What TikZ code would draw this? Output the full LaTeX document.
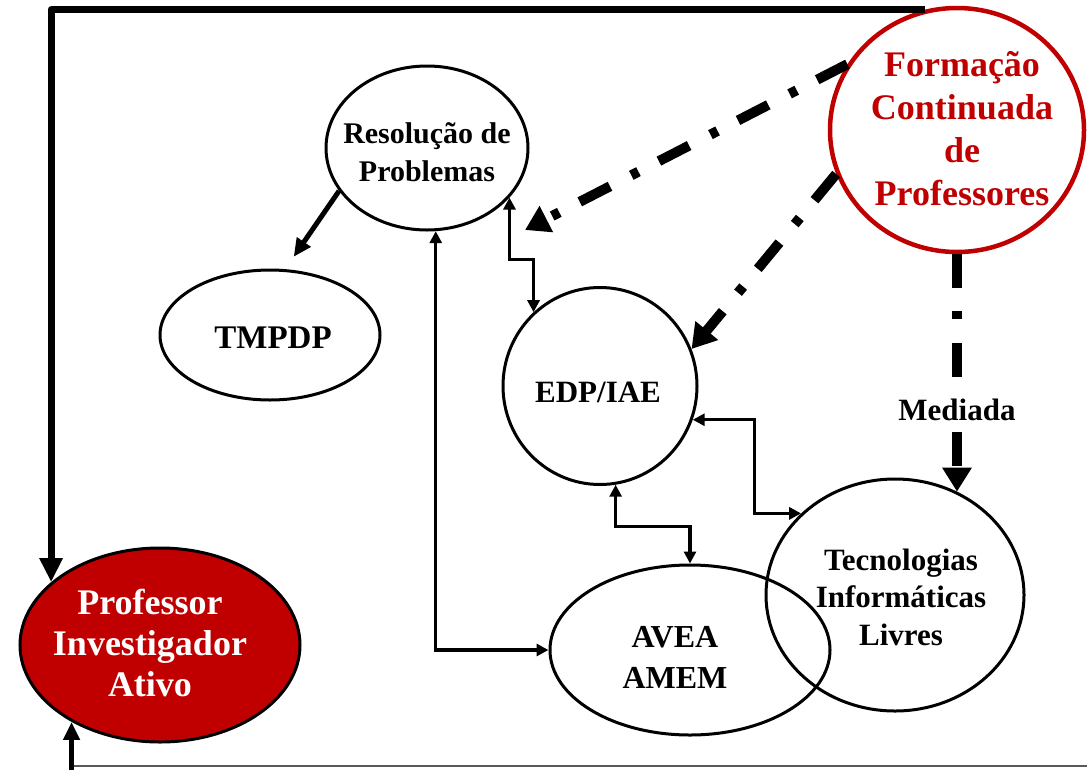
\documentclass[tikz,border=0pt]{standalone}
\usepackage{fontspec}
\setmainfont{Liberation Serif}
\usetikzlibrary{shapes.geometric,arrows.meta,calc}
\definecolor{dred}{RGB}{192,0,0}
\newcommand\fsz[2]{\fontsize{#1}{#2}\selectfont\bfseries}
\begin{document}
\begin{tikzpicture}[x=1pt,y=-1pt,
  ell/.style={ellipse, draw, line width=3pt, inner sep=0pt},
  lab/.style={align=center, inner sep=0pt},
  con/.style={line width=3.5pt, line join=miter,
    {Triangle[length=12pt,width=12pt]}-{Triangle[length=12pt,width=12pt]}},
  bigarrow/.style={line width=7pt, line join=round, -{Triangle[length=24pt,width=22pt]}},
  medarrow/.style={line width=5pt, -{Triangle[length=18pt,width=16pt]}},
  dd/.style={line width=10pt, dash pattern=on 34pt off 23pt on 8pt off 24pt,
    -{Triangle[length=24pt,width=28pt]}}
]
\useasboundingbox (0,0) rectangle (1087,769);
\fill[white] (0,0) rectangle (1087,769);

% nodes
\node[ell, minimum width=202pt, minimum height=164pt] (res) at (427,148) {};
\node[lab, font=\fsz{30}{38}] at (427,152) {Resolução de\\Problemas};

\node[ell, minimum width=220pt, minimum height=130pt] (tmp) at (270,335) {};
\node[lab, font=\fsz{33}{37}] at (273,338) {TMPDP};

\node[ell, minimum width=194pt, minimum height=197pt] (edp) at (600,386) {};
\node[lab, font=\fsz{31}{36}] at (598,392) {EDP/IAE};

\node[ell, minimum width=280pt, minimum height=170pt] (avea) at (690,650) {};
\node[ell, minimum width=258pt, minimum height=232pt] (tec) at (895,595) {};
\node[lab, font=\fsz{32}{41}] at (675,657) {AVEA\\AMEM};
\node[lab, font=\fsz{31}{37.5}] at (901,597) {Tecnologias\\Informáticas\\Livres};

\node[ell, fill=dred, minimum width=280pt, minimum height=194pt] (prof) at (160,645) {};
\node[lab, font=\fsz{36}{41}, text=white] at (150,643) {Professor\\Investigador\\Ativo};

\node[ell, draw=dred, line width=4.5pt, minimum width=254pt, minimum height=244pt] (form) at (957,130) {};
\node[lab, font=\fsz{36}{43}, text=dred] at (962,129) {Formação\\Continuada\\de\\Professores};

% connectors
\draw[bigarrow] (form.105) -| (prof.150);
\coordinate (bB) at (0,770);
\coordinate (bR) at (1087,766);
\draw[line width=1.5pt, black!65] (bR) -- (prof.221 |- bR);
\draw[medarrow] (prof.221 |- bB) -- (prof.221);

\draw[medarrow, shorten >=15pt] (res.206) -- (tmp.77);
\draw[con] (res.-84) |- (avea.west);
\draw[con] (res.-31) -- ++(0,62) -| (edp.132);
\draw[con] (edp.-81) -- ++(0,42) -| (avea.north);
\draw[con] (edp.-20) -- ++(62,0) |- (tec.139);

\coordinate (ddend) at (525,230);
\draw[dd] (form.149) -- (ddend);
\draw[dd] (form.200) -- (edp.22);
\draw[dd] (form.south) -- (form.south |- tec.59)
  node[pos=0.656, fill=white, inner sep=2pt, font=\fsz{31}{36}] (med) {Mediada};
\end{tikzpicture}
\end{document}
